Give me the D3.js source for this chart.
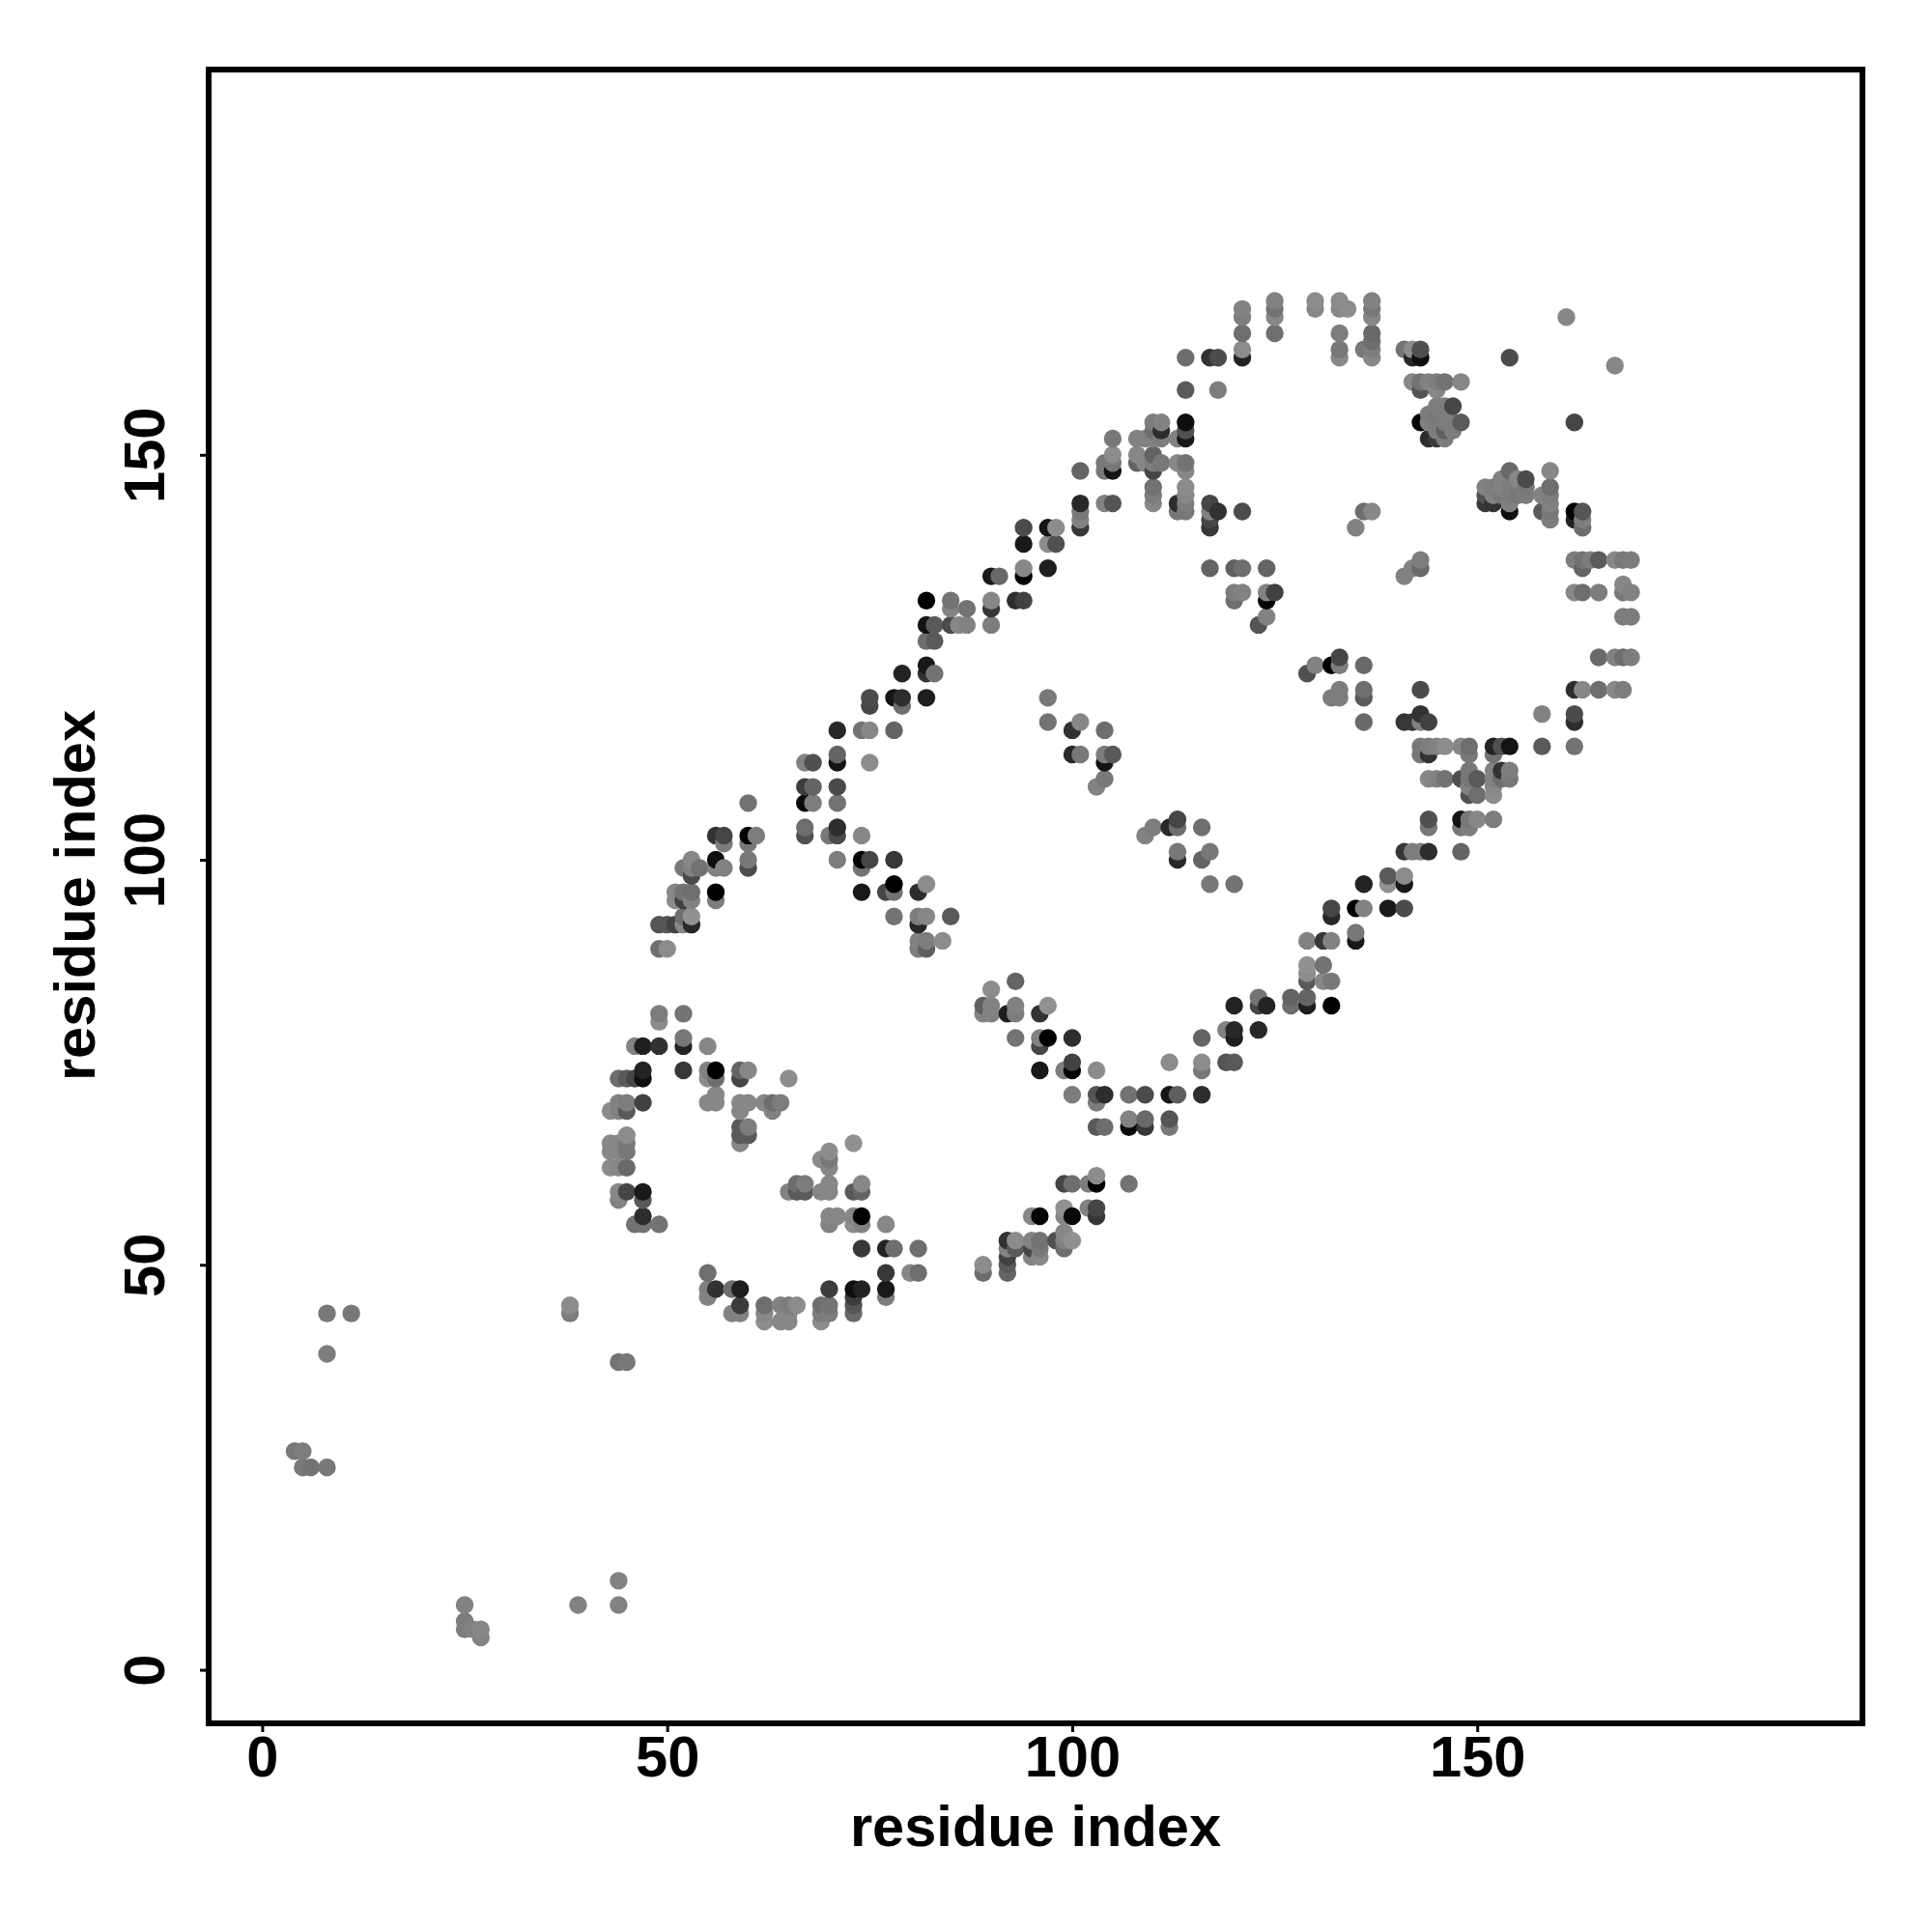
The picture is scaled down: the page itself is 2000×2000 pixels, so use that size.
<!DOCTYPE html>
<html>
<head>
<meta charset="utf-8">
<script src="https://cdn.jsdelivr.net/npm/d3@7"></script>
<style>
html,body{margin:0;padding:0;background:#fff}
svg{display:block}
text{font-family:"Liberation Sans",Arial,sans-serif;font-weight:bold;fill:#000}
</style>
</head>
<body>
<svg id="chart" width="2000" height="2000"></svg>
<script>
const axisTicks = [0, 50, 100, 150];
const axisTitle = "residue index";
const axisDomain = [-6.61, 197.56];

// Residue index on the horizontal axis; one entry per column of contacts.
const residueI = [4,5,6,8,11,25,26,27,38,39,43,44,45,46,47,49,50,51,52,53,54,55,56,57,58,59,60,61,62,63,64,65,66,67,68,69,70,71,73,74,75,77,78,79,80,81,82,83,84,85,86,87,89,90,91,92,93,94,95,96,97,98,99,100,101,102,103,104,105,107,108,109,110,111,112,113,114,116,117,118,119,120,121,123,124,125,127,129,130,131,132,133,134,135,136,137,139,141,142,143,144,145,146,147,148,149,150,151,152,153,154,155,156,158,159,161,162,163,164,165,167,168,169];

// Partner residues for each column of residueI.
const partners = [
[27],[27,25],[25],[44,39,25],[44],[8,6,5],[5],[5,4],[45,44],[8],
[69,65,64,62],
[73,70,69,65,64,62,59,58,38,11,8],
[73,70,69,66,65,64,62,59,38],
[77,73,55],
[77,74,73,70,59,58,56,55],
[92,89,81,80,77,55],
[92,89],
[96,95,92],
[99,96,95,93,92,81,78,77,74],
[100,99,98,96,95,93,92],
[99],
[77,74,73,70,49,47,46],
[103,100,99,96,95,74,73,71,70,47],
[103,102,99],
[47,44],
[74,73,70,69,67,66,65,47,45,44],
[107,103,102,100,99,74,70,67,66],
[103],
[70,45,44,43],
[70,69],
[70,45,43],
[73,59,45,44,43],
[60,59,45],
[112,109,107,104,103,60,59],
[112,109,107],
[63,59,45,44,43],
[103,64,63,62,60,59,56,55,47,45,44],
[116,113,112,109,107,104,103,100,56],
[65,59,56,55,47,46,45,44],
[116,103,100,99,96,60,59,56,55,52,47],
[120,119,116,112,100],
[96,55,52,49,47,46],
[120,116,100,97,96,93,52],
[123,120,119],
[49],
[96,93,92,90,89,52,49],
[132,129,127,124,123,120,97,93,90,89],
[129,127,123],
[90],
[132,131,129,93],
[129],
[131,129],
[82,81,50,49],
[135,132,131,129,84,82,81],
[135],
[81,53,52,51,50,49],
[132,85,82,81,78,53,52],
[141,139,136,135,132],
[56,53,52,51],
[81,78,77,74,56,53,52,51],
[141,139,136,120,117,82,78],
[141,139,53],
[74,60,57,56,54,53,52],
[116,113,78,75,74,71,60,56,53],
[148,144,143,142,141,117,113],
[60,57],
[109,74,71,70,67,61,60,57,56],
[149,148,144,116,113,112,110,71,67],
[152,150,149,148,144,113],
[71,68,67,60],
[152,150,149],
[152,149,103,71,68,67],
[154,153,152,150,149,148,146,145,144,104],
[154,153,152,149],
[104,75,71,68,67],
[152,149,144,143,105,104,101,100,71],
[162,158,154,153,152,149,148,146,145,144,143],
[104,100,78,75,74,71],
[162,144,143,142,141,136,101,97],
[162,158,143],
[79,75],
[136,133,132,97,82,79,78,75],
[168,167,165,163,162,143,136,133],
[129,83,82,79],
[136,133,132,130,82],
[169,168,167,165,133],
[83,82],
[123,90,87,86,85,83,82],
[169,168,124],
[90,87,85],
[124,120,94,93,90,85,82],
[169,168,165,163,162,125,124,121,120],
[168],
[141,94,91,90],
[163,143,124,121,120,117,97,94],
[169,168,167,165,164,163,162,143],
[98,97,94],
[163,135,117,101,98,97,94],
[163,162,159,136,117,101],
[163,162,159,158,154,137,136,121,118,117,114,113,101],
[159,155,154,152,117,114,113,110,105,104,101],
[159,158,156,155,154,153,152,114,110],
[159,156,155,154,153,152,114,110],
[156,154,153],
[159,154,114,110,105,104,101],
[114,113,111,110,109,108,105,104],
[110,108,105],
[146,145,144],
[146,145,144,114,113,111,110,109,108,105],
[147,146,145,114,111,110],
[162,148,146,145,144,143,114,111,110],
[147,146,145],
[147,146,145],
[145,143,118,114],
[148,146,145,144,143,142],
[167],
[154,143,142,137,133,121,118,117,114],
[143,142,141,137,136,133,121],
[137],
[137,133,125,121],
[161,137,125,121],
[137,134,133,130,125,121],
[137,133,130,125]
];

// Grey level (0-255) of each contact, aligned with partners.
const shades = [
[120],[125,120],[115],[120,125,120],[120],[130,125,125],[130],[135,130],[140,125],[130],
[140,135,135,140],
[110,130,130,135,135,135,135,130,115,130,130],
[90,125,90,140,120,120,105,70,120],
[130,70,115],
[30,35,15,65,25,90,45,115],
[85,110,125,140,50,115],
[85,140],
[135,140,65],
[120,115,65,110,135,115,120,35,55],
[135,130,75,110,130,145,40],
[115],
[135,130,140,135,110,130,130],
[50,15,130,0,125,0,110,135,135,50],
[70,125,130],
[110,130],
[100,70,135,135,90,90,135,30,60,130],
[115,0,120,120,75,135,135,125,90],
[125],
[135,110,135,140],
[110,130],
[125,130,135],
[140,130,125,135,135],
[110,90,140],
[130,60,10,110,80,125,90],
[80,100,125],
[140,135,110,125,140],
[120,140,120,135,135,135,135,130,60,115,125],
[40,100,20,75,115,45,75,125,135],
[145,90,135,140,15,60,85,105],
[115,135,5,115,25,135,100,0,130,55,35],
[75,70,135,140,70],
[70,135,35,55,25,125],
[20,100,55,0,115,115,110],
[35,45,110],
[135],
[45,125,40,130,125,110,110],
[0,20,110,25,50,30,140,135,125,95],
[90,90,115],
[140],
[115,130,75,90],
[135],
[115,130],
[95,130,140,110],
[25,135,55,125,140,130,130],
[105],
[30,50,130,65,90,100],
[45,100,130,125,115,140,90],
[75,25,135,0,65],
[135,130,70,130],
[50,130,70,25,5,115,120,135],
[20,140,30,120,115,145,0],
[140,80,80],
[125,70,145,135,135,130,110],
[50,40,45,65,0,125,110,10,145],
[100,40,120,130,55,135,120],
[125,130],
[130,140,85,125,90,140,0,70,55],
[120,120,130,110,125,20,120,45,110],
[120,140,120,20,85,90],
[115,130,10,115],
[130,135,100],
[130,135,130,75,105,55],
[125,110,130,100,125,70,115,125,135,125],
[130,45,125,120],
[40,140,20,85,120],
[130,135,45,120,70,110,120,40,95],
[110,90,15,80,25,115,135,140,135,125,120],
[110,100,100,140,120,45],
[50,70,130,70,55,100,120,120],
[75,125,50],
[130,85],
[95,125,110,115,35,40,30,90],
[130,125,110,140,35,75,110,130],
[85,115,70,40],
[100,130,5,130,35],
[130,115,135,110,65],
[100,110],
[80,130,145,140,90,100,30],
[140,135,130],
[55,115,135],
[0,125,70,40,130,120,0],
[140,135,125,120,135,70,125,125,125],
[140],
[130,0,120,25],
[120,110,105,110,90,105,35,130],
[130,120,135,105,110,125,135,135],
[90,145,25],
[115,130,55,55,140,25,75],
[140,40,135,130,55,125],
[80,15,115,85,5,125,105,75,50,130,120,120,125],
[130,125,130,45,65,125,50,135,80,120,45],
[125,135,125,120,125,125,60,130,130],
[115,125,125,125,95,125,140,115],
[70,125,125],
[135,90,135,80,20,120,100],
[110,120,120,120,130,80,120,125],
[90,110,135],
[130,80,55],
[125,130,50,35,115,130,130,135,140,125],
[130,130,120,80,50,110],
[75,105,125,125,130,15,20,125,120],
[135,120,120],
[75,120,125],
[130,90,130,90],
[135,110,125,130,120,125],
[135],
[70,5,35,125,135,45,75,45,115],
[85,125,110,115,100,110,135],
[125],
[90,125,105,110],
[135,135,130,135],
[120,135,120,125,110,125],
[125,130,125,125]
];

const xScale = d3.scaleLinear().domain(axisDomain).range([216, 1928]);
const yScale = d3.scaleLinear().domain(axisDomain).range([1784, 72]);

const contacts = residueI.flatMap((x, c) =>
  partners[c].map((y, k) => ({ x, y, g: shades[c][k] }))
).sort((a, b) => d3.ascending(a.x, b.x) || d3.ascending(a.y, b.y));

const svg = d3.select("#chart");

svg.append("g").selectAll("circle").data(contacts).join("circle")
  .attr("cx", d => xScale(d.x))
  .attr("cy", d => yScale(d.y))
  .attr("r", 9.2)
  .attr("fill", d => `rgb(${d.g},${d.g},${d.g})`);

const xAxis = svg.append("g").attr("transform", "translate(0,1784)")
  .call(d3.axisBottom(xScale).tickValues(axisTicks).tickSize(9).tickPadding(0).tickFormat(d3.format("d")));
xAxis.select(".domain").remove();
xAxis.selectAll("line").attr("stroke", "#000").attr("stroke-width", 3);
xAxis.selectAll("text").attr("y", 55).attr("dy", 0)
  .style("font-size", "59.6px").attr("text-anchor", "middle");

const yAxis = svg.append("g").attr("transform", "translate(216,0)")
  .call(d3.axisLeft(yScale).tickValues(axisTicks).tickSize(9).tickPadding(0).tickFormat(d3.format("d")));
yAxis.select(".domain").remove();
yAxis.selectAll("line").attr("stroke", "#000").attr("stroke-width", 3);
yAxis.selectAll("text")
  .attr("x", 0).attr("y", 0).attr("dy", 0)
  .attr("transform", "translate(-46,0) rotate(-90)")
  .style("font-size", "59.6px").attr("text-anchor", "middle");

svg.append("rect")
  .attr("x", 216).attr("y", 72).attr("width", 1928 - 216).attr("height", 1784 - 72)
  .attr("fill", "none").attr("stroke", "#000").attr("stroke-width", 6);

svg.append("text").attr("x", 1072).attr("y", 1911)
  .attr("text-anchor", "middle").style("font-size", "59.6px").text(axisTitle);
svg.append("text").attr("transform", "translate(98,927) rotate(-90)")
  .attr("text-anchor", "middle").style("font-size", "59.6px").text(axisTitle);
</script>
</body>
</html>
